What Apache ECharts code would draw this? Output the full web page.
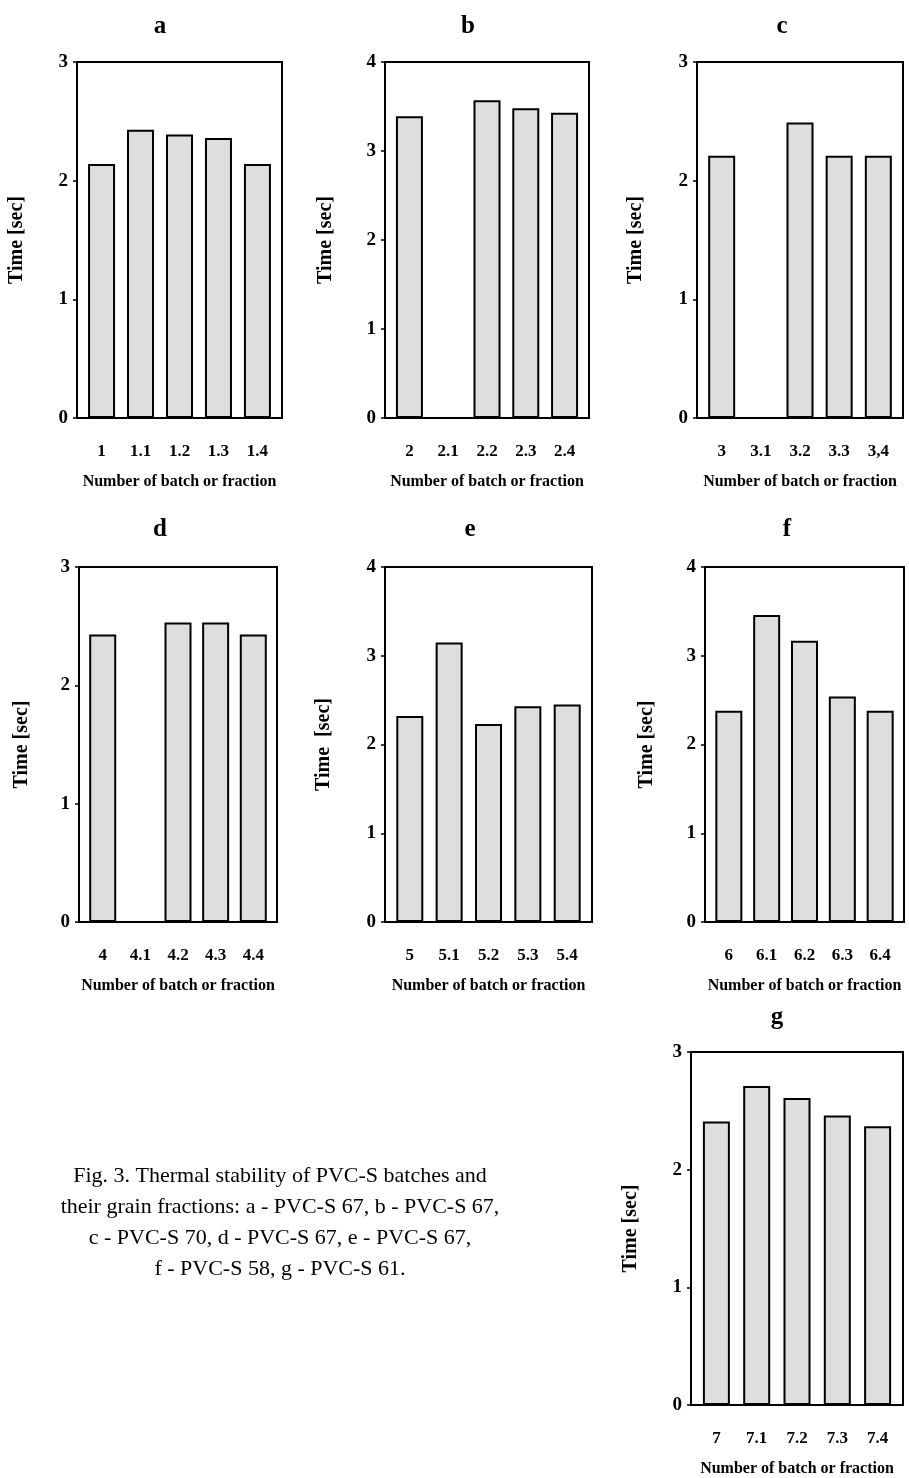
<!DOCTYPE html>
<html>
<head>
<meta charset="utf-8">
<title>Thermal stability of PVC-S</title>
<script src="https://cdn.jsdelivr.net/npm/echarts@6/dist/echarts.min.js"></script>
<style>
  html, body { margin: 0; padding: 0; background: #fff; }
</style>
</head>
<body>
<div id="main" style="width:909px;height:1478px;"></div>
<script type="text/javascript">
// data (null = no bar)
var catsA = ['1', '1.1', '1.2', '1.3', '1.4'];
var valsA = [2.14, 2.43, 2.39, 2.36, 2.14];
var catsB = ['2', '2.1', '2.2', '2.3', '2.4'];
var valsB = [3.39, null, 3.57, 3.48, 3.43];
var catsC = ['3', '3.1', '3.2', '3.3', '3,4'];
var valsC = [2.21, null, 2.49, 2.21, 2.21];
var catsD = ['4', '4.1', '4.2', '4.3', '4.4'];
var valsD = [2.43, null, 2.53, 2.53, 2.43];
var catsE = ['5', '5.1', '5.2', '5.3', '5.4'];
var valsE = [2.32, 3.15, 2.23, 2.43, 2.45];
var catsF = ['6', '6.1', '6.2', '6.3', '6.4'];
var valsF = [2.38, 3.46, 3.17, 2.54, 2.38];
var catsG = ['7', '7.1', '7.2', '7.3', '7.4'];
var valsG = [2.41, 2.71, 2.61, 2.46, 2.37];

var yMax = [3, 4, 3, 3, 4, 4, 3];
var panelNames = ['a', 'b', 'c', 'd', 'e', 'f', 'g'];
var yNames = ['Time [sec]', 'Time [sec]', 'Time [sec]', 'Time [sec]', 'Time  [sec]', 'Time [sec]', 'Time [sec]'];
var xName = 'Number of batch or fraction';
var caption = 'Fig. 3. Thermal stability of PVC-S batches and\n' +
    'their grain fractions: a - PVC-S 67, b - PVC-S 67,\n' +
    'c - PVC-S 70, d - PVC-S 67, e - PVC-S 67,\n' +
    'f - PVC-S 58, g - PVC-S 61.';

var allCats = [catsA, catsB, catsC, catsD, catsE, catsF, catsG];
var allVals = [valsA, valsB, valsC, valsD, valsE, valsF, valsG];

// layout of each panel box
var boxes = [
    {left: 77, top: 62, width: 205, height: 356, title: [160, 27], yGap: 50},
    {left: 385, top: 62, width: 204, height: 356, title: [468, 27], yGap: 49},
    {left: 697, top: 62, width: 206, height: 356, title: [782, 27], yGap: 51},
    {left: 79, top: 567, width: 198, height: 355, title: [160, 530], yGap: 47},
    {left: 385, top: 567, width: 207, height: 355, title: [470, 530], yGap: 51},
    {left: 705, top: 567, width: 199, height: 355, title: [787, 530], yGap: 48},
    {left: 691, top: 1052, width: 212, height: 356, title: [777, 1018], yGap: 50}
];

var font = '"Liberation Serif", "Times New Roman", serif';
var grids = [], xAxes = [], yAxes = [], series = [], graphics = [];

boxes.forEach(function (b, i) {
    var cats = allCats[i];
    grids.push({
        left: b.left, top: b.top, width: b.width, height: b.height,
        show: true, borderColor: '#000', borderWidth: 2, backgroundColor: 'transparent'
    });
    xAxes.push({
        gridIndex: i,
        type: 'value',
        min: -0.63,
        max: 4.63,
        axisLine: {show: false, onZero: false},
        axisTick: {show: false},
        splitLine: {show: false},
        axisLabel: {
            customValues: [0, 1, 2, 3, 4],
            formatter: function (v) { return cats[Math.round(v)]; },
            margin: 25,
            color: '#000',
            fontFamily: font,
            fontWeight: 'bold',
            fontSize: 17
        },
        name: xName,
        nameLocation: 'middle',
        nameGap: 56,
        nameTextStyle: {color: '#000', fontFamily: font, fontWeight: 'bold', fontSize: 16}
    });
    yAxes.push({
        gridIndex: i,
        type: 'value',
        min: 0,
        max: yMax[i],
        interval: 1,
        axisLine: {show: false, onZero: false},
        axisTick: {show: true, length: 4, lineStyle: {color: '#000', width: 1.5}},
        splitLine: {show: false},
        axisLabel: {
            margin: 9,
            color: '#000',
            fontFamily: font,
            fontWeight: 'bold',
            fontSize: 19
        },
        name: yNames[i],
        nameLocation: 'middle',
        nameRotate: 90,
        nameGap: b.yGap,
        nameTextStyle: {color: '#000', fontFamily: font, fontWeight: 'bold', fontSize: 20}
    });
    var data = [];
    allVals[i].forEach(function (v, k) {
        if (v !== null) data.push([k, v]);
    });
    series.push({
        type: 'bar',
        xAxisIndex: i,
        yAxisIndex: i,
        barWidth: 27,
        data: data,
        itemStyle: {color: '#dedede', borderColor: '#000', borderWidth: 2},
        silent: true
    });
    graphics.push({
        type: 'text',
        x: b.title[0],
        y: b.title[1],
        style: {
            text: panelNames[i],
            fill: '#000',
            font: 'bold 25px ' + font,
            textAlign: 'center',
            textVerticalAlign: 'middle'
        }
    });
});

graphics.push({
    type: 'text',
    x: 280,
    y: 1161,
    style: {
        text: caption,
        fill: '#000',
        font: '22px ' + font,
        lineHeight: 31,
        textAlign: 'center',
        textVerticalAlign: 'top'
    }
});

var myChart = echarts.init(document.getElementById('main'));
var option = {
    animation: false,
    backgroundColor: '#fff',
    grid: grids,
    xAxis: xAxes,
    yAxis: yAxes,
    series: series,
    graphic: graphics
};
myChart.setOption(option);
</script>
</body>
</html>
